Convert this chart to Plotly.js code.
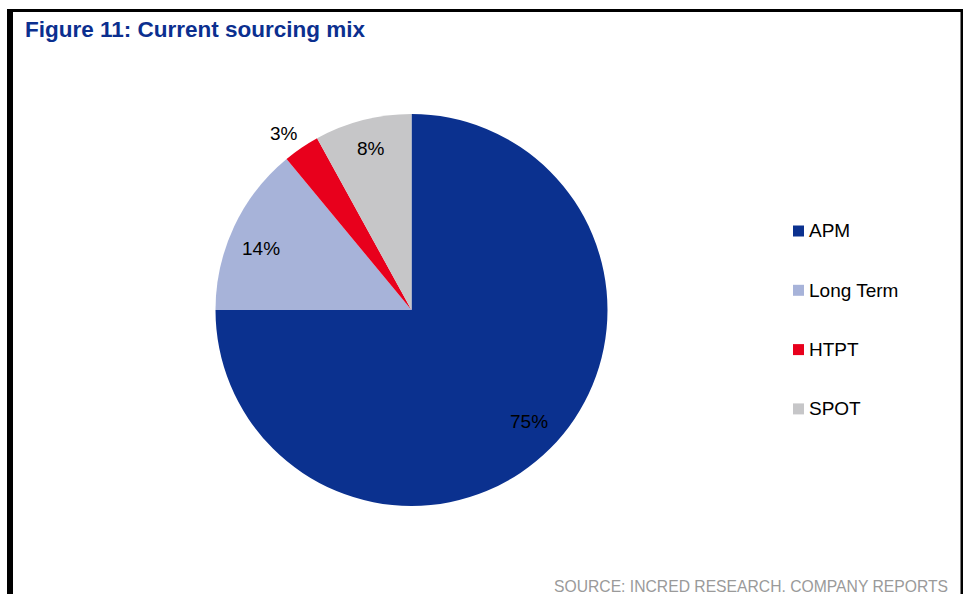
<!DOCTYPE html>
<html>
<head>
<meta charset="utf-8">
<script src="https://cdn.plot.ly/plotly-3.0.1.min.js"></script>
<style>
  html, body { margin: 0; padding: 0; background: #ffffff; }
  #chart { width: 971px; height: 594px; }
</style>
</head>
<body>
<div id="chart"></div>
<script>
// ---- data ----
const categories = ["APM", "Long Term", "HTPT", "SPOT"];
const values = [75, 14, 3, 8];
const titleText = "Figure 11: Current sourcing mix";
const sourceText = "SOURCE: INCRED RESEARCH. COMPANY REPORTS";

// ---- styles ----
const colors = ["#0b318f", "#a7b3d9", "#e8001c", "#c6c6c8"];
const labelPlacement = ["inside", "inside", "outside", "inside"];
// small pixel nudges to mimic the original label layout
const labelNudge = [[1, -5], [-1.5, 9], [-4.5, 5.5], [0, -2.5]];

// ---- geometry (pixels) ----
const W = 971, H = 594;
const cx = 411.5, cy = 310, R = 196;
const px = x => x / W;
const py = y => 1 - y / H;

const total = values.reduce((a, b) => a + b, 0);

const trace = {
  type: "pie",
  labels: categories,
  values: values,
  sort: false,
  direction: "clockwise",
  rotation: 0,
  marker: { colors: colors, line: { width: 0 } },
  textinfo: "none",
  hoverinfo: "label+percent",
  showlegend: false,
  domain: { x: [px(cx - R), px(cx + R)], y: [py(cy + R), py(cy - R)] }
};

const annotations = [];
const shapes = [];
const font = "Liberation Sans, Arial, sans-serif";

// slice labels computed from the data
let cum = 0;
values.forEach((v, i) => {
  const mid = (cum + v / 2) / total * 2 * Math.PI;
  cum += v;
  const f = labelPlacement[i] === "inside" ? 0.84 : 1.12;
  const x = cx + R * f * Math.sin(mid) + labelNudge[i][0];
  const y = cy - R * f * Math.cos(mid) + labelNudge[i][1];
  annotations.push({
    xref: "paper", yref: "paper", x: px(x), y: py(y),
    xanchor: "center", yanchor: "middle", showarrow: false,
    text: Math.round(v / total * 100) + "%",
    font: { family: font, size: 19, color: "#000000" }
  });
});

// manual legend
categories.forEach((c, i) => {
  const yc = 231 + i * 59.3;
  shapes.push({
    type: "rect", xref: "paper", yref: "paper",
    x0: px(793), x1: px(804), y0: py(yc + 5.5), y1: py(yc - 5.5),
    fillcolor: colors[i], line: { width: 0 }
  });
  annotations.push({
    xref: "paper", yref: "paper", x: px(807), y: py(yc),
    xanchor: "left", yanchor: "middle", showarrow: false,
    text: c,
    font: { family: font, size: 19, color: "#000000" }
  });
});

// title
annotations.push({
  xref: "paper", yref: "paper", x: px(23), y: py(30),
  xanchor: "left", yanchor: "middle", showarrow: false,
  text: "<b>" + titleText + "</b>",
  font: { family: font, size: 22.5, color: "#0b2f8f" }
});

// source
annotations.push({
  xref: "paper", yref: "paper", x: px(950), y: py(586),
  xanchor: "right", yanchor: "middle", showarrow: false,
  text: sourceText,
  font: { family: font, size: 15.7, color: "#9a9a9a" }
});

// frame
shapes.push({ type: "rect", xref: "paper", yref: "paper", x0: px(7), x1: px(13), y0: 0, y1: py(9), fillcolor: "#000", line: { width: 0 } });
shapes.push({ type: "rect", xref: "paper", yref: "paper", x0: px(7), x1: px(963), y0: py(12), y1: py(9), fillcolor: "#000", line: { width: 0 } });
shapes.push({ type: "rect", xref: "paper", yref: "paper", x0: px(960.5), x1: px(963), y0: 0, y1: py(9), fillcolor: "#000", line: { width: 0 } });

const layout = {
  width: W, height: H,
  margin: { l: 0, r: 0, t: 0, b: 0, pad: 0 },
  paper_bgcolor: "#ffffff",
  showlegend: false,
  annotations: annotations,
  shapes: shapes
};

Plotly.newPlot("chart", [trace], layout, { displayModeBar: false, staticPlot: true });
</script>
</body>
</html>
